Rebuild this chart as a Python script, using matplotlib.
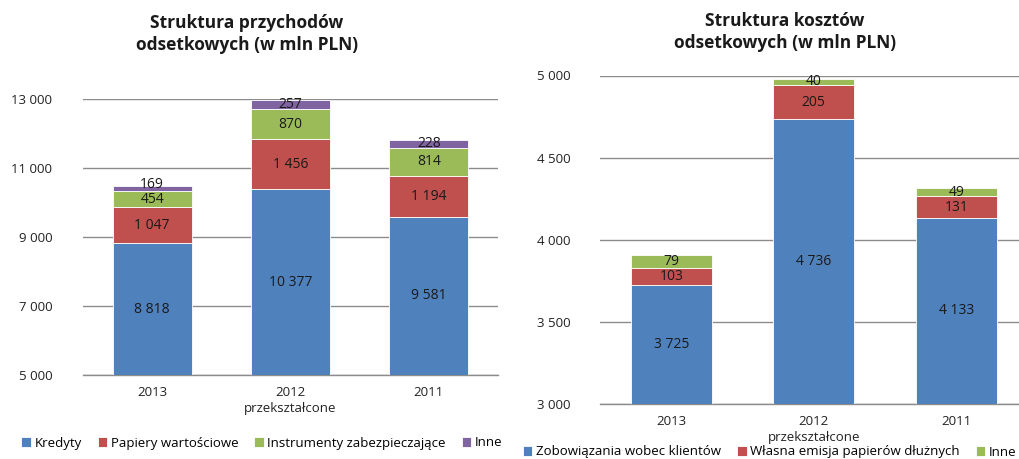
import matplotlib
matplotlib.use("Agg")
import matplotlib.pyplot as plt
import numpy as np

plt.rcParams['font.family'] = ['Open Sans', 'DejaVu Sans']

# --- Data ---
categories = ["2013", "2012\nprzekształcone", "2011"]

inc_series = ["Kredyty", "Papiery wartościowe", "Instrumenty zabezpieczające", "Inne"]
inc_kredyty = [8818, 10377, 9581]
inc_papiery = [1047, 1456, 1194]
inc_instr = [454, 870, 814]
inc_inne = [169, 257, 228]

cost_series = ["Zobowiązania wobec klientów", "Własna emisja papierów dłużnych", "Inne"]
cost_zob = [3725, 4736, 4133]
cost_emisja = [103, 205, 131]
cost_inne = [79, 40, 49]

inc_ticks = [5000, 7000, 9000, 11000, 13000]
cost_ticks = [3000, 3500, 4000, 4500, 5000]

colors = ["#4F81BD", "#C0504D", "#9BBB59", "#8064A2"]
W, H = 1019, 459

def fmt(v):
    return f"{v:,}".replace(",", " ")

fig = plt.figure(figsize=(W / 100, H / 100), dpi=100)

def px_axes(x0, x1, ytop, ybot):
    return fig.add_axes([x0 / W, 1 - ybot / H, (x1 - x0) / W, (ybot - ytop) / H]), (ybot - ytop)

def draw(ax, hpx, series_vals, names, ylim, ticks, xlim, ypad):
    x = np.arange(len(categories))
    bottom = np.zeros(len(categories))
    prev_label = [None] * len(categories)
    unit_per_px = (ylim[1] - ylim[0]) / hpx
    min_sep = 14.5 * unit_per_px
    handles = []
    for i, (vals, name) in enumerate(zip(series_vals, names)):
        vals = np.array(vals, dtype=float)
        b = ax.bar(x, vals, 0.57, bottom=bottom, color=colors[i], edgecolor="white",
                   linewidth=0.6, label=name, zorder=3)
        handles.append(b)
        for j, (xi, v, bt) in enumerate(zip(x, vals, bottom)):
            lo = max(bt, ylim[0])
            yl = (lo + bt + v) / 2
            if prev_label[j] is not None and yl - prev_label[j] < min_sep:
                yl = prev_label[j] + min_sep
            prev_label[j] = yl
            ax.text(xi, yl, fmt(int(v)), ha="center", va="center",
                    fontsize=10, color="#1a1a1a", zorder=4)
        bottom += vals
    ax.set_ylim(*ylim)
    ax.set_xlim(*xlim)
    ax.set_yticks(ticks)
    ax.set_yticklabels([fmt(t) for t in ticks], fontsize=9.5, color="#222222")
    ax.set_xticks(x)
    ax.set_xticklabels(categories, fontsize=9.5, color="#222222", linespacing=1.25)
    ax.tick_params(axis="both", length=0, pad=8)
    ax.tick_params(axis="y", pad=ypad)
    ax.grid(axis="y", color="#8c8c8c", linewidth=1.0, zorder=0)
    for s in ["top", "right", "left"]:
        ax.spines[s].set_visible(False)
    ax.spines["bottom"].set_color("#8c8c8c")
    ax.spines["bottom"].set_linewidth(1.0)
    return handles

ax1, hp1 = px_axes(83, 498, 99, 375)
h1 = draw(ax1, hp1, [inc_kredyty, inc_papiery, inc_instr, inc_inne], inc_series,
          (5000, 13000), inc_ticks, (-0.5, 2.5), 22)

ax2, hp2 = px_axes(600, 1019, 75.5, 404)
h2 = draw(ax2, hp2, [cost_zob, cost_emisja, cost_inne], cost_series,
          (3000, 5000), cost_ticks, (-0.5, 2.44), 21)

fig.text(247 / W, 1 - 34 / H, "Struktura przychodów\nodsetkowych (w mln PLN)", ha="center",
         va="center", fontsize=12.5, fontweight="bold", color="#1a1a1a", linespacing=1.3)
fig.text(785 / W, 1 - 32 / H, "Struktura kosztów\nodsetkowych (w mln PLN)", ha="center",
         va="center", fontsize=12.5, fontweight="bold", color="#1a1a1a", linespacing=1.3)

leg_kw = dict(frameon=False, fontsize=9.5, handlelength=0.7, handleheight=0.7,
              handletextpad=0.3, columnspacing=1.2, borderpad=0, borderaxespad=0)
fig.legend(handles=h1, labels=inc_series, loc="center", ncol=4,
           bbox_to_anchor=(262 / W, 1 - 443 / H), **leg_kw)
fig.legend(handles=h2, labels=cost_series, loc="center", ncol=3,
           bbox_to_anchor=(770 / W, 1 - 452 / H), **leg_kw)

fig.savefig("out.png", dpi=100)
